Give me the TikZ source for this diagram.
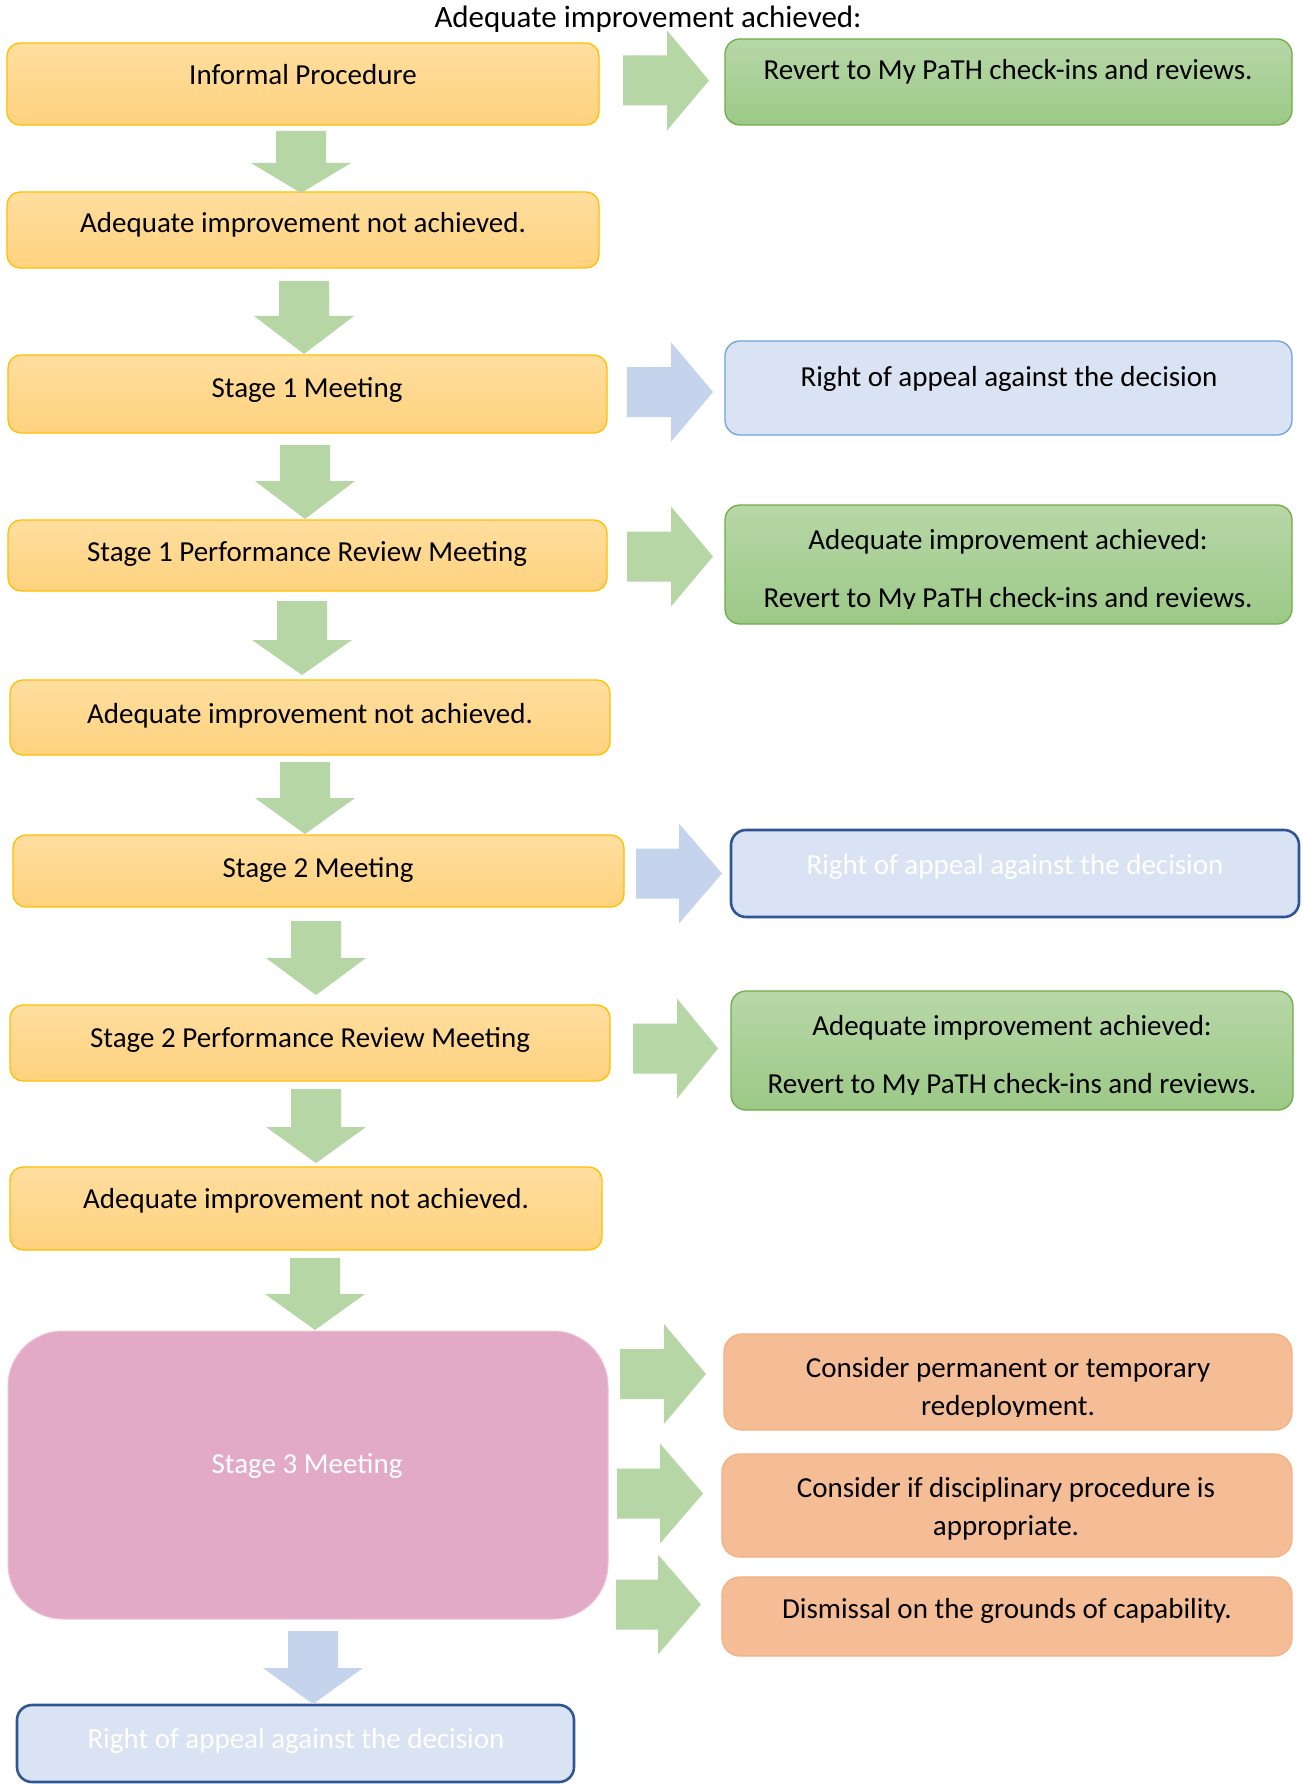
\documentclass[tikz,border=0pt]{standalone}
\usepackage{fontspec}
\setmainfont{Carlito}
\definecolor{ytop}{HTML}{FFDE9F}
\definecolor{ybot}{HTML}{FFD27E}
\definecolor{ybd}{HTML}{FFC000}
\definecolor{gtop}{HTML}{B7D7A7}
\definecolor{gbot}{HTML}{9CC987}
\definecolor{gbd}{HTML}{70AD47}
\definecolor{garrow}{HTML}{B7D6A5}
\definecolor{barrow}{HTML}{C5D4EC}
\definecolor{bfill}{HTML}{DAE3F3}
\definecolor{bbdl}{HTML}{6FA3DA}
\definecolor{bbdd}{HTML}{2F5597}
\definecolor{pfill}{HTML}{E2AAC7}
\definecolor{pbd}{HTML}{EEC4D8}
\definecolor{ofill}{HTML}{F5BD96}
\definecolor{obd}{HTML}{F4B183}
\newcommand\bx[6]{\node[#1, minimum width={#4-#2}, minimum height={#5-#3}, inner sep=0pt] (#6) at ({(#2+#4)/2},{(#3+#5)/2}) {};}
\newcommand\DA[5]{\fill[#1] (#2-25,#3) -- (#2+25,#3) -- (#2+25,#4) -- (#2+50,#4) -- (#2,#5) -- (#2-50,#4) -- (#2-25,#4) -- cycle;}
\newcommand\RA[5]{\fill[#1] (#2,#5-25) -- (#3,#5-25) -- (#3,#5-50) -- (#4,#5) -- (#3,#5+50) -- (#3,#5+25) -- (#2,#5+25) -- cycle;}
\begin{document}
\begin{tikzpicture}[x=1pt,y=-1pt,
  ybox/.style={draw=ybd, line width=1.3pt, top color=ytop, bottom color=ybot, rounded corners=13pt},
  gbox/.style={draw=gbd, line width=1.3pt, top color=gtop, bottom color=gbot, rounded corners=15pt},
  bboxl/.style={draw=bbdl, line width=1.3pt, fill=bfill, rounded corners=15pt},
  bboxd/.style={draw=bbdd, line width=2.6pt, fill=bfill, rounded corners=15pt},
  pbox/.style={draw=pbd, line width=1pt, fill=pfill, rounded corners=55pt},
  obox/.style={draw=obd, line width=1.3pt, fill=ofill, rounded corners=18pt},
  txt/.style={font=\fontsize{29}{35}\selectfont, inner sep=0pt, anchor=base},
  wtxt/.style={txt, text=white},
  ga/.style={fill=garrow},
  ba/.style={fill=barrow}]
\useasboundingbox (0,0) rectangle (1301,1784);
\fill[white] (0,0) rectangle (1301,1784);

% title
\node[txt, font=\fontsize{31}{37}\selectfont] (title) at (648,28) {Adequate improvement achieved:};

% left column boxes
\bx{ybox}{7}{43}{599}{125}{y1}
\node[txt] (ty1) at (303,85) {Informal Procedure};
\bx{ybox}{7}{192}{599}{268}{y2}
\node[txt] (ty2) at (303,233) {Adequate improvement not achieved.};
\bx{ybox}{8}{355}{607}{433}{y3}
\node[txt] (ty3) at (307,397) {Stage 1 Meeting};
\bx{ybox}{8}{520}{607}{591}{y4}
\node[txt] (ty4) at (307,561) {Stage 1 Performance Review Meeting};
\bx{ybox}{10}{680}{610}{755}{y5}
\node[txt] (ty5) at (310,723) {Adequate improvement not achieved.};
\bx{ybox}{13}{835}{624}{907}{y6}
\node[txt] (ty6) at (318,877) {Stage 2 Meeting};
\bx{ybox}{10}{1005}{610}{1081}{y7}
\node[txt] (ty7) at (310,1047) {Stage 2 Performance Review Meeting};
\bx{ybox}{10}{1167}{602}{1250}{y8}
\node[txt] (ty8) at (306,1208) {Adequate improvement not achieved.};
\bx{pbox}{8}{1331}{608}{1619}{s3}
\node[wtxt] (ts3) at (307,1473) {Stage 3 Meeting};
\bx{bboxd}{17}{1705}{574}{1782}{b3}
\node[wtxt] (tb3) at (296,1748) {Right of appeal against the decision};

% right column boxes
\bx{gbox}{725}{39}{1292}{125}{g1}
\node[txt] (tg1) at (1008,80) {Revert to My PaTH check-ins and reviews.};
\bx{bboxl}{725}{341}{1292}{435}{b1}
\node[txt] (tb1) at (1009,386) {Right of appeal against the decision};
\bx{gbox}{725}{505}{1292}{624}{g2}
\node[txt] (tg2a) at (1008,549) {Adequate improvement achieved:};
\begin{scope}
\clip (725,560) rectangle (1292,608);
\node[txt] (tg2b) at (1008,607) {Revert to My PaTH check-ins and reviews.};
\end{scope}
\bx{bboxd}{731}{830}{1299}{917}{b2}
\node[wtxt] (tb2) at (1015,874) {Right of appeal against the decision};
\bx{gbox}{731}{991}{1293}{1110}{g3}
\node[txt] (tg3a) at (1012,1035) {Adequate improvement achieved:};
\begin{scope}
\clip (731,1045) rectangle (1293,1094);
\node[txt] (tg3b) at (1012,1093) {Revert to My PaTH check-ins and reviews.};
\end{scope}
\bx{obox}{724}{1334}{1292}{1430}{o1}
\node[txt] (to1a) at (1008,1377) {Consider permanent or temporary};
\begin{scope}
\clip (724,1385) rectangle (1292,1416);
\node[txt] (to1b) at (1008,1415) {redeployment.};
\end{scope}
\bx{obox}{722}{1454}{1292}{1557}{o2}
\node[txt, align=center] (to2a) at (1006,1497) {Consider if disciplinary procedure is};
\node[txt] (to2b) at (1006,1535) {appropriate.};
\bx{obox}{722}{1577}{1292}{1656}{o3}
\node[txt] (to3) at (1007,1618) {Dismissal on the grounds of capability.};

% down arrows
\DA{ga}{301}{131}{163}{193}
\DA{ga}{304}{281}{316}{354}
\DA{ga}{305}{445}{481}{519}
\DA{ga}{302}{601}{640}{675}
\DA{ga}{305}{762}{798}{834}
\DA{ga}{316}{921}{958}{995}
\DA{ga}{316}{1089}{1127}{1163}
\DA{ga}{315}{1258}{1294}{1330}
\DA{ba}{313}{1631}{1668}{1704}

% right arrows
\RA{ga}{623}{667}{709}{80.5}
\RA{ba}{627}{671}{713}{392}
\RA{ga}{627}{671}{713}{556.5}
\RA{ba}{636}{679}{722}{873.5}
\RA{ga}{633}{677}{718}{1048.5}
\RA{ga}{620}{664}{706}{1374}
\RA{ga}{617}{660}{703}{1493.5}
\RA{ga}{616}{658}{701}{1604.5}
\end{tikzpicture}
\end{document}
